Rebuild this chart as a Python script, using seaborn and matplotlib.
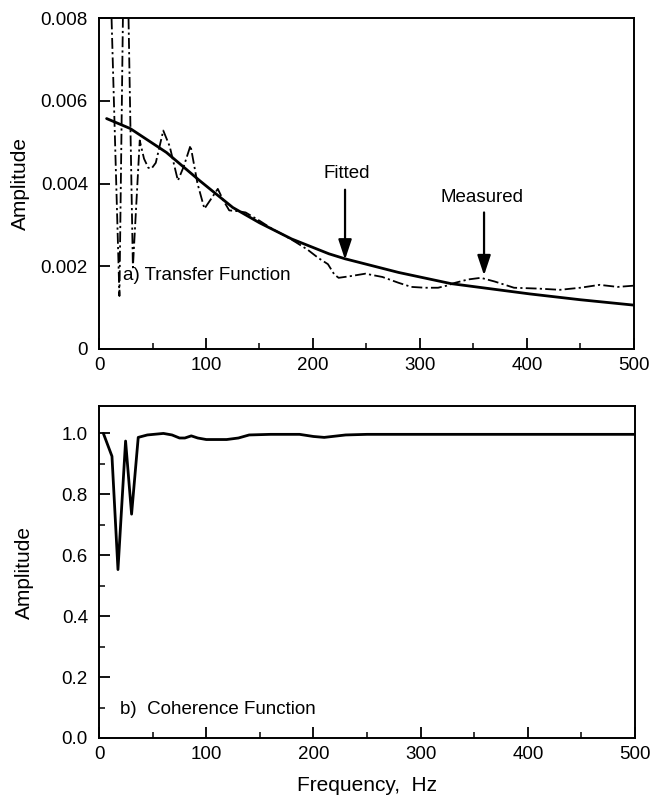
import matplotlib
matplotlib.use("Agg")
import matplotlib.pyplot as plt
import matplotlib.ticker as mticker
import seaborn as sns

# Transfer function (panel a)
meas_freq = [10, 19, 23, 26.5, 31.6, 38, 42, 46, 49, 53, 60, 66, 73.7, 79, 85.5, 92,
             98.5, 104, 111, 116, 121.7, 130, 137, 150, 162, 173, 184, 195, 205, 214,
             220, 224, 235, 249, 265, 280, 292, 305, 317, 325, 333, 345, 357, 370,
             388, 410, 431, 450, 468, 485, 500]
meas_amp = [0.0095, 0.00128, 0.0095, 0.0095, 0.00197, 0.00504, 0.0046, 0.00438, 0.00436,
            0.0045, 0.00528, 0.0049, 0.00407, 0.0044, 0.00492, 0.0040,
            0.00339, 0.0036, 0.00387, 0.0036, 0.00335, 0.00333, 0.0033, 0.0031, 0.0029,
            0.00275, 0.00258, 0.0024, 0.0022, 0.00205,
            0.0018, 0.00172, 0.00176, 0.00182, 0.00174, 0.0016, 0.0015, 0.00148, 0.00148,
            0.00153, 0.0016, 0.00168, 0.00172, 0.00163,
            0.00148, 0.00146, 0.00143, 0.00148, 0.00155, 0.0015, 0.00153]

fit_freq = [7, 29, 63, 94, 125, 150, 180, 215, 230, 280, 329, 403, 450, 500]
fit_amp = [0.00557, 0.00533, 0.00475, 0.00407, 0.00342, 0.00305, 0.00266, 0.0023,
           0.00218, 0.00185, 0.00158, 0.00133, 0.00119, 0.00106]

# Coherence function (panel b)
coh_freq = [4, 12, 17.6, 24.7, 30.3, 36.5, 45, 60, 68, 75, 80, 86, 92, 100, 119, 130,
            140, 160, 187, 200, 210, 230, 250, 300, 350, 400, 450, 500]
coh_amp = [1.0, 0.925, 0.553, 0.975, 0.735, 0.987, 0.995, 1.0, 0.995, 0.985, 0.985,
           0.992, 0.985, 0.98, 0.98, 0.985, 0.995, 0.997, 0.997, 0.99, 0.987, 0.995,
           0.997, 0.997, 0.997, 0.997, 0.997, 0.997]

sns.set_style("ticks")
plt.rcParams['font.family'] = ['Liberation Sans', 'DejaVu Sans']
plt.rcParams['font.size'] = 13.5
plt.rcParams['axes.linewidth'] = 1.4
plt.rcParams['xtick.direction'] = 'in'
plt.rcParams['ytick.direction'] = 'in'
for k in ('text.color', 'axes.labelcolor', 'xtick.color', 'ytick.color', 'axes.edgecolor'):
    plt.rcParams[k] = 'black'

fig = plt.figure(figsize=(6.52, 7.98), dpi=100)
ax1 = fig.add_axes([0.152, 0.5627, 0.820, 0.4147])
ax2 = fig.add_axes([0.152, 0.0752, 0.822, 0.416])

# panel a
sns.lineplot(x=fit_freq, y=fit_amp, ax=ax1, color='black', lw=2.0, sort=False)
sns.lineplot(x=meas_freq, y=meas_amp, ax=ax1, color='black', lw=1.3, sort=False,
             linestyle=(0, (6, 1.8, 1.2, 1.8)))
ax1.set_xlim(0, 500)
ax1.set_ylim(0, 0.008)
ax1.set_yticks([0, 0.002, 0.004, 0.006, 0.008])
ax1.yaxis.set_major_formatter(mticker.FixedFormatter(['0', '0.002', '0.004', '0.006', '0.008']))
ax1.set_xticks(range(0, 501, 100))
ax1.xaxis.set_minor_locator(mticker.MultipleLocator(50))
ax1.set_ylabel('Amplitude', labelpad=8, fontsize=15)
ax1.text(22, 0.00177, 'a) Transfer Function', va='center', ha='left')

ax1.annotate('', xy=(230, 0.00216), xytext=(230, 0.00385),
             arrowprops=dict(arrowstyle='-|>,head_width=0.3,head_length=0.9',
                             color='black', lw=1.6, shrinkA=0, shrinkB=0))
ax1.text(232, 0.00424, 'Fitted', ha='center', va='center')
ax1.annotate('', xy=(360, 0.00178), xytext=(360, 0.0033),
             arrowprops=dict(arrowstyle='-|>,head_width=0.3,head_length=0.9',
                             color='black', lw=1.6, shrinkA=0, shrinkB=0))
ax1.text(358, 0.00366, 'Measured', ha='center', va='center')

# panel b
sns.lineplot(x=coh_freq, y=coh_amp, ax=ax2, color='black', lw=2.0, sort=False)
ax2.set_xlim(0, 500)
ax2.set_ylim(0, 1.09)
ax2.set_yticks([0, 0.2, 0.4, 0.6, 0.8, 1.0])
ax2.yaxis.set_major_formatter(mticker.FormatStrFormatter('%.1f'))
ax2.yaxis.set_minor_locator(mticker.MultipleLocator(0.1))
ax2.set_xticks(range(0, 501, 100))
ax2.xaxis.set_minor_locator(mticker.MultipleLocator(50))
ax2.set_ylabel('Amplitude', labelpad=20, fontsize=15)
ax2.set_xlabel('Frequency,  Hz', labelpad=9, fontsize=15)
ax2.text(19.5, 0.092, 'b)  Coherence Function', va='center', ha='left')

for ax in (ax1, ax2):
    ax.tick_params(which='major', length=8, width=1.3, pad=6)
    ax.tick_params(which='minor', length=4, width=1.1)
    ax.tick_params(axis='y', which='both', pad=8)
    for s in ax.spines.values():
        s.set_visible(True)
        s.set_color('black')

fig.savefig('out.png', dpi=100)
